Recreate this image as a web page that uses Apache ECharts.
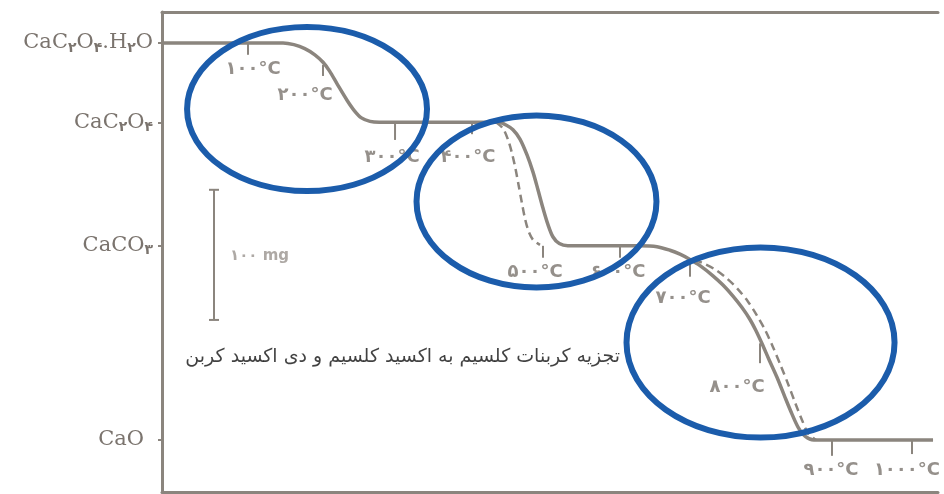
<!DOCTYPE html>
<html>
<head>
<meta charset="utf-8">
<script src="https://cdn.jsdelivr.net/npm/echarts@6/dist/echarts.min.js"></script>
<style>
  html, body { margin: 0; padding: 0; background: #fff; }
  #chart { width: 944px; height: 494px; }
</style>
</head>
<body>
<div id="chart"></div>
<script>
// TGA curve of calcium oxalate monohydrate (x = heating time, arbitrary units; y = mass, mg)
const levelMass = [146, 128, 100, 56]
const levelNames = ['CaC۲O۴.H۲O', 'CaC۲O۴', 'CaCO۳', 'CaO']

const solidCurve = [
  [0, 146], [15.6, 146], [17.0, 145.6], [18.4, 144.7], [19.7, 143.3], [20.75, 141.6], [21.6, 139.6],
  [22.6, 136.6], [23.84, 133.0], [24.8, 130.6], [25.7, 129.0], [26.8, 128.2], [28.0, 128], [43.3, 128],
  [44.33, 127.4], [45.23, 126.3], [46.13, 124.2], [47.04, 120.6], [47.81, 116.7], [48.45, 112.7],
  [49.1, 108.5], [49.74, 104.8], [50.39, 102.0], [51.2, 100.5], [52.3, 100], [61.6, 100],
  [63.79, 99.8], [65.46, 99.0], [66.75, 98.1], [68.04, 96.9], [69.33, 95.5], [71.0, 93.2],
  [72.29, 91.1], [73.58, 88.6], [74.74, 86.0], [75.77, 83.3], [76.5, 80.9], [77.3, 77.9],
  [78.2, 74.3], [79.25, 70.2], [80.3, 65.6], [81.2, 61.8], [82.0, 58.8], [82.9, 56.8], [84.0, 56], [99.36, 56]
]
const dashCurve1 = [
  [43.04, 128], [43.94, 126.6], [44.6, 124.0], [45.1, 121.0], [45.55, 117.5], [45.95, 113.8],
  [46.35, 110.0], [46.75, 106.4], [47.2, 103.5], [47.8, 101.4], [48.71, 100.2]
]
const dashCurve2 = [
  [68.6, 96.9], [69.8, 96.0], [71.3, 94.6], [72.8, 92.6], [74.2, 90.2], [75.5, 87.4],
  [76.6, 84.4], [77.7, 81.0], [78.7, 77.2], [79.7, 73.0], [80.7, 68.6], [81.6, 64.4],
  [82.5, 60.4], [83.3, 57.4], [84.3, 56]
]

// temperature marks along the curve: [x, top, bottom]
const tempTicks = [
  [11.08, 146, 143.3], [20.75, 141.0, 138.5], [30.03, 128, 124.0], [39.95, 128, 125.3],
  [49.1, 100, 97.3], [59.02, 100, 97.3], [68.04, 96.3, 93.0], [77.06, 77.9, 73.4],
  [86.34, 56, 52.4], [96.65, 56, 52.8]
]
const tempLabels = ['۱۰۰°C', '۲۰۰°C', '۳۰۰°C', '۴۰۰°C', '۵۰۰°C', '۶۰۰°C', '۷۰۰°C', '۸۰۰°C', '۹۰۰°C', '۱۰۰۰°C']
const tempLabelPos = [
  [11.73, 140.0], [18.43, 134.0], [29.64, 120.1], [39.43, 120.1], [48.07, 94.1],
  [58.76, 94.1], [67.14, 88.2], [74.1, 68.0], [86.21, 49.2], [96.0, 49.2]
]

// 100 mg scale bar: [x, top, bottom]
const scaleBar = [6.7, 112.7, 83.2]
const scaleLabel = [8.76, 97.7, '۱۰۰ mg']

const caption = [59.02, 74.8, 'تجزیه کربنات کلسیم به اکسید کلسیم و دی اکسید کربن']

// highlight ellipses: [cx, cy, rx, ry]
const ellipses = [
  [18.69, 131.0, 15.46, 18.6],
  [48.26, 110.06, 15.46, 19.5],
  [77.13, 78.09, 17.27, 21.54]
]

const gray = '#8b857e'
const textGray = '#7b746e'

function formula(name) {
  // Persian digits become subscripts; CaO sits a little further from the axis
  if (name === 'CaO') return '{o|CaO}'
  return name.replace(/([^۰-۹]+)|([۰-۹]+)/g, (m, a, b) => a ? `{n|${a}}` : `{s|${b}}`)
}

const chart = echarts.init(document.getElementById('chart'))

chart.setOption({
  animation: false,
  backgroundColor: '#ffffff',
  grid: { left: 162, right: 6, top: 12, bottom: 2 },
  xAxis: [{
    type: 'value', min: 0, max: 100, position: 'bottom',
    axisLine: { show: true, lineStyle: { color: gray, width: 3 } },
    axisTick: { show: false }, axisLabel: { show: false }, splitLine: { show: false }
  }, {
    type: 'value', min: 0, max: 100, position: 'top',
    axisLine: { show: true, lineStyle: { color: gray, width: 3 } },
    axisTick: { show: false }, axisLabel: { show: false }, splitLine: { show: false }
  }],
  yAxis: {
    type: 'value', min: 44.2, max: 153,
    axisLine: { show: true, lineStyle: { color: gray, width: 3 } },
    axisTick: { show: true, customValues: levelMass, length: 4, inside: false, lineStyle: { color: gray, width: 2 } },
    axisLabel: {
      show: true, customValues: levelMass, margin: 9,
      formatter: (v) => formula(levelNames[levelMass.indexOf(v)] || ''),
      rich: {
        n: { fontFamily: 'DejaVu Serif', fontSize: 21, color: textGray, lineHeight: 26 },
        o: { fontFamily: 'DejaVu Serif', fontSize: 21, color: textGray, lineHeight: 26, padding: [0, 9, 0, 0] },
        s: { fontFamily: 'DejaVu Sans', fontSize: 14, color: textGray, fontWeight: 'bold', padding: [10, 0, 0, 0], lineHeight: 15 }
      }
    },
    splitLine: { show: false }
  },
  series: [
    {
      type: 'line', data: dashCurve1, symbol: 'none', smooth: 0.3, z: 2,
      lineStyle: { color: gray, width: 2.5, type: [8, 5] }
    },
    {
      type: 'line', data: dashCurve2, symbol: 'none', smooth: 0.3, z: 2,
      lineStyle: { color: gray, width: 2.5, type: [8, 5] }
    },
    {
      type: 'line', data: solidCurve, symbol: 'none', smooth: 0.3, z: 3,
      lineStyle: { color: gray, width: 3.5 }
    },
    {
      type: 'custom', z: 3, data: tempTicks,
      renderItem: (params, api) => {
        const a = api.coord([api.value(0), api.value(1)])
        const b = api.coord([api.value(0), api.value(2)])
        return { type: 'line', shape: { x1: a[0], y1: a[1], x2: b[0], y2: b[1] }, style: { stroke: gray, lineWidth: 2 } }
      }
    },
    {
      type: 'scatter', symbolSize: 0, z: 4,
      data: tempLabelPos.map((p, i) => [p[0], p[1], tempLabels[i]]),
      label: {
        show: true, position: 'inside', formatter: (p) => p.data[2],
        fontFamily: 'DejaVu Sans', fontSize: 18, fontWeight: 'bold', color: textGray
      }
    },
    {
      type: 'custom', z: 3, data: [scaleBar],
      renderItem: (params, api) => {
        const a = api.coord([api.value(0), api.value(1)])
        const b = api.coord([api.value(0), api.value(2)])
        const st = { stroke: gray, lineWidth: 2 }
        return {
          type: 'group', children: [
            { type: 'line', shape: { x1: a[0], y1: a[1], x2: b[0], y2: b[1] }, style: st },
            { type: 'line', shape: { x1: a[0] - 5, y1: a[1], x2: a[0] + 5, y2: a[1] }, style: st },
            { type: 'line', shape: { x1: b[0] - 5, y1: b[1], x2: b[0] + 5, y2: b[1] }, style: st }
          ]
        }
      }
    },
    {
      type: 'scatter', symbolSize: 0, z: 4, data: [scaleLabel],
      label: {
        show: true, position: 'inside', align: 'left', formatter: (p) => p.data[2],
        fontFamily: 'DejaVu Sans', fontSize: 15, fontWeight: 'bold', color: '#9a948e'
      }
    },
    {
      type: 'scatter', symbolSize: 0, z: 4, data: [caption],
      label: {
        show: true, position: 'inside', align: 'right', formatter: (p) => p.data[2],
        fontFamily: 'DejaVu Sans', fontSize: 19, color: '#111111'
      }
    },
    {
      type: 'custom', z: 10, data: ellipses,
      renderItem: (params, api) => {
        const c = api.coord([api.value(0), api.value(1)])
        const s = api.size([api.value(2), api.value(3)])
        return {
          type: 'ellipse',
          shape: { cx: c[0], cy: c[1], rx: s[0], ry: s[1] },
          style: { fill: 'none', stroke: '#1b5cab', lineWidth: 6 }
        }
      }
    }
  ]
})
</script>
</body>
</html>
